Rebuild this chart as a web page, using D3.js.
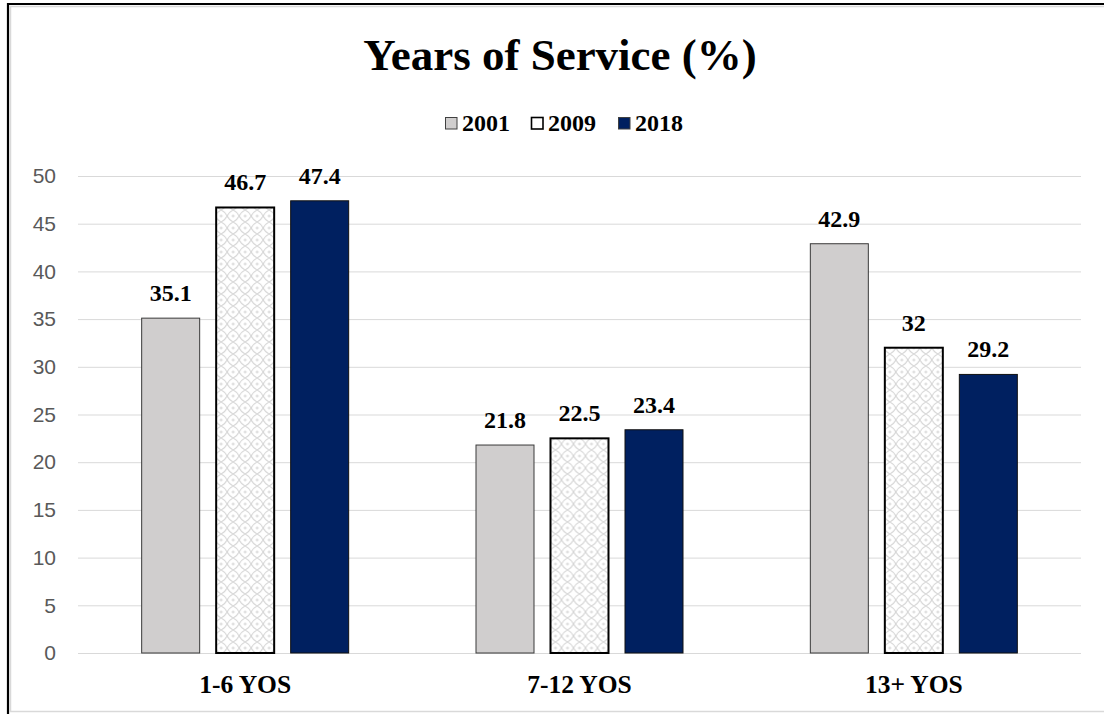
<!DOCTYPE html>
<html>
<head>
<meta charset="utf-8">
<script src="https://cdn.jsdelivr.net/npm/d3@7"></script>
<style>
  html, body { margin: 0; padding: 0; background: #fff; }
  svg { display: block; }
</style>
</head>
<body>
<svg id="chart" width="1104" height="714"></svg>
<script>
// Share of personnel by years of service, in percent
const categories = ["1-6 YOS", "7-12 YOS", "13+ YOS"];
const seriesNames = ["2001", "2009", "2018"];
const values2001 = [35.1, 21.8, 42.9];
const values2009 = [46.7, 22.5, 32];
const values2018 = [47.4, 23.4, 29.2];
const yTicks = [0, 5, 10, 15, 20, 25, 30, 35, 40, 45, 50];

const seriesValues = [values2001, values2009, values2018];

const svg = d3.select("#chart");
const W = 1104, H = 714;
const serif = "'Liberation Serif', 'Times New Roman', serif";

// Frame around the chart area
svg.append("rect").attr("x", 10.5).attr("y", 6.5).attr("width", W).attr("height", 705)
  .attr("fill", "none").attr("stroke", "#d9d9d9").attr("stroke-width", 1.5);
svg.append("path").attr("d", `M8,${H} V4 H${W}`)
  .attr("fill", "none").attr("stroke", "#000").attr("stroke-width", 2.2);

// Lattice fill used for the 2009 series
const defs = svg.append("defs");
const pat = defs.append("pattern").attr("id", "lattice")
  .attr("patternUnits", "userSpaceOnUse").attr("width", 12).attr("height", 12);
pat.append("rect").attr("width", 12).attr("height", 12).attr("fill", "#fff");
pat.append("path").attr("d", "M0,6 Q4,4 6,0 Q8,4 12,6 Q8,8 6,12 Q4,8 0,6 Z")
  .attr("fill", "none").attr("stroke", "#d3d3d3").attr("stroke-width", 1.1);
pat.append("path").attr("d", "M-1.5,0 H1.5 M0,-1.5 V1.5 M10.5,0 H13.5 M12,-1.5 V1.5 M-1.5,12 H1.5 M0,10.5 V13.5 M10.5,12 H13.5 M12,10.5 V13.5")
  .attr("stroke", "#d6d6d6").attr("stroke-width", 1);

const fills = ["#d0cece", "url(#lattice)", "#002060"];
const strokes = ["#3a3a3a", "#000", "#111"];
const strokeW = [1, 2, 1];
const legendFills = ["#d0cece", "#fff", "#002060"];

const plot = { left: 78, right: 1081, top: 176, bottom: 653 };

const x = d3.scaleBand().domain(categories).range([plot.left, plot.right]).paddingInner(0).paddingOuter(0);
const bw = 58, step = 74.5;
const y = d3.scaleLinear().domain([0, 50]).range([plot.bottom, plot.top]);

// Gridlines and value axis
const yAxis = d3.axisLeft(y).tickValues(yTicks).tickSize(-(plot.right - plot.left)).tickPadding(22);
const gy = svg.append("g").attr("transform", `translate(${plot.left},0)`).call(yAxis);
gy.select(".domain").remove();
gy.selectAll(".tick line").attr("stroke", "#d9d9d9").attr("stroke-width", 1);
gy.selectAll(".tick text").attr("fill", "#595959")
  .style("font-family", "'Liberation Sans', Arial, sans-serif").style("font-size", "21px");

// Bars with value labels
const groups = svg.append("g").selectAll("g").data(categories).join("g")
  .attr("transform", d => `translate(${x(d) + x.bandwidth() / 2},0)`);

seriesNames.forEach((s, si) => {
  const off = (si - 1) * step - bw / 2;
  groups.append("rect")
    .attr("x", off)
    .attr("y", (d, ci) => y(seriesValues[si][ci]))
    .attr("width", bw)
    .attr("height", (d, ci) => y(0) - y(seriesValues[si][ci]))
    .attr("fill", fills[si])
    .attr("stroke", strokes[si])
    .attr("stroke-width", strokeW[si]);
  groups.append("text")
    .attr("x", off + bw / 2)
    .attr("y", (d, ci) => y(seriesValues[si][ci]) - 17)
    .attr("text-anchor", "middle")
    .style("font-family", serif)
    .style("font-weight", "bold").style("font-size", "24px").attr("fill", "#000")
    .text((d, ci) => seriesValues[si][ci]);
});

// Category labels
const xAxis = d3.axisBottom(x).tickSize(0).tickPadding(40);
const gx = svg.append("g").attr("transform", `translate(0,${plot.bottom})`).call(xAxis);
gx.select(".domain").remove();
gx.selectAll(".tick text").attr("fill", "#000").attr("dy", 0)
  .style("font-family", serif)
  .style("font-weight", "bold").style("font-size", "25.5px");

// Title
svg.append("text").attr("x", 560).attr("y", 70).attr("text-anchor", "middle")
  .style("font-family", serif)
  .style("font-weight", "bold").style("font-size", "45px").attr("fill", "#000")
  .text("Years of Service (%)");

// Legend
const legendX = [445, 531, 618];
const leg = svg.append("g").selectAll("g").data(seriesNames).join("g")
  .attr("transform", (d, i) => `translate(${legendX[i]},117)`);
leg.append("rect").attr("x", 0.5).attr("y", 0.5).attr("width", 11.5).attr("height", 11.5)
  .attr("fill", (d, i) => legendFills[i])
  .attr("stroke", (d, i) => i === 1 ? "#000" : "#404040")
  .attr("stroke-width", (d, i) => i === 1 ? 1.6 : 1);
leg.append("text").attr("x", 17).attr("y", 14)
  .style("font-family", serif)
  .style("font-weight", "bold").style("font-size", "24px").attr("fill", "#000")
  .text(d => d);
</script>
</body>
</html>
